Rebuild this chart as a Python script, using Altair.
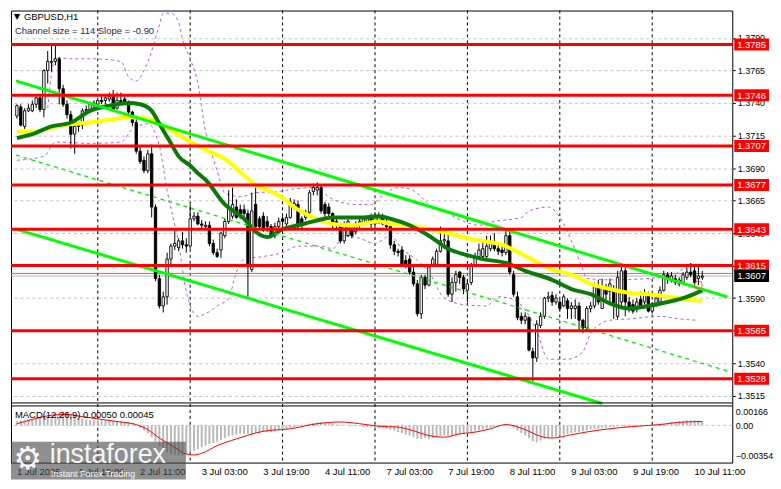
import altair as alt
import pandas as pd

# ---------------- values ----------------
time_labels = ["1 Jul 2025", "1 Jul 19:00", "2 Jul 11:00", "3 Jul 03:00", "3 Jul 19:00",
               "4 Jul 11:00", "7 Jul 03:00", "7 Jul 19:00", "8 Jul 11:00", "9 Jul 03:00",
               "9 Jul 19:00", "10 Jul 11:00"]
label_bars = [0, 16, 32, 48, 64, 80, 96, 112, 128, 144, 160, 176]
grid_bars = [0, 8, 16, 24, 32, 40, 48, 56, 64, 72, 80, 88, 96, 104, 112, 120, 128,
             136, 144, 152, 160, 168, 176]
day_starts = [21, 45, 69, 93, 117, 141, 165]
price_ticks = [1.3515, 1.3540, 1.3565, 1.3590, 1.3615, 1.3640, 1.3665, 1.3690,
               1.3715, 1.3740, 1.3765, 1.3790]
macd_ticks = [0.00166, 0.0, -0.00354]
levels = [1.3785, 1.3746, 1.3707, 1.3677, 1.3643, 1.3615, 1.3565, 1.3528]
bid_price = 1.3607
ask_price = 1.3609
marker_bar = 177
marker_price = 1.3600

open_ = [1.3730,1.3737,1.3722,1.3734,1.3734,1.3739,1.3744,1.3735,1.3765,1.3771,
         1.3772,1.3774,1.3751,1.3739,1.3731,1.3716,1.3722,1.3723,1.3734,1.3734,
         1.3738,1.3739,1.3742,1.3742,1.3743,1.3745,1.3736,1.3742,1.3743,1.3740,
         1.3733,1.3725,1.3703,1.3696,1.3688,1.3701,1.3660,1.3605,1.3584,1.3591,
         1.3620,1.3630,1.3629,1.3634,1.3631,1.3630,1.3651,1.3653,1.3647,1.3645,
         1.3646,1.3632,1.3625,1.3627,1.3638,1.3649,1.3653,1.3660,1.3658,1.3658,
         1.3655,1.3612,1.3662,1.3651,1.3653,1.3649,1.3645,1.3638,1.3645,1.3651,
         1.3647,1.3652,1.3660,1.3662,1.3651,1.3652,1.3656,1.3672,1.3673,1.3675,
         1.3662,1.3660,1.3655,1.3649,1.3646,1.3634,1.3638,1.3643,1.3641,1.3646,
         1.3647,1.3649,1.3652,1.3647,1.3649,1.3653,1.3647,1.3645,1.3631,1.3626,
         1.3627,1.3619,1.3620,1.3610,1.3601,1.3578,1.3606,1.3600,1.3616,1.3616,
         1.3626,1.3634,1.3634,1.3593,1.3602,1.3610,1.3606,1.3596,1.3602,1.3615,
         1.3622,1.3622,1.3622,1.3628,1.3632,1.3628,1.3627,1.3625,1.3638,1.3608,
         1.3591,1.3576,1.3573,1.3575,1.3549,1.3544,1.3569,1.3576,1.3590,1.3592,
         1.3587,1.3587,1.3584,1.3588,1.3582,1.3582,1.3584,1.3573,1.3567,1.3582,
         1.3584,1.3600,1.3582,1.3599,1.3595,1.3596,1.3576,1.3587,1.3611,1.3587,
         1.3585,1.3582,1.3589,1.3587,1.3593,1.3580,1.3585,1.3587,1.3596,1.3608,
         1.3604,1.3605,1.3601,1.3602,1.3606,1.3610,1.3611,1.3605,1.3606]
high = [1.3739,1.3739,1.3736,1.3739,1.3742,1.3745,1.3745,1.3766,1.3780,1.3785,
        1.3785,1.3775,1.3754,1.3742,1.3734,1.3725,1.3725,1.3736,1.3738,1.3741,
        1.3742,1.3744,1.3745,1.3745,1.3748,1.3750,1.3748,1.3748,1.3745,1.3742,
        1.3734,1.3728,1.3707,1.3699,1.3704,1.3708,1.3662,1.3608,1.3595,1.3625,
        1.3632,1.3642,1.3636,1.3641,1.3636,1.3662,1.3656,1.3656,1.3650,1.3649,
        1.3649,1.3635,1.3628,1.3641,1.3651,1.3673,1.3675,1.3666,1.3662,1.3662,
        1.3658,1.3671,1.3675,1.3653,1.3656,1.3653,1.3647,1.3648,1.3652,1.3653,
        1.3655,1.3667,1.3666,1.3665,1.3653,1.3658,1.3673,1.3678,1.3679,1.3677,
        1.3664,1.3663,1.3656,1.3652,1.3648,1.3649,1.3652,1.3646,1.3649,1.3652,
        1.3653,1.3653,1.3655,1.3656,1.3656,1.3655,1.3651,1.3646,1.3634,1.3628,
        1.3630,1.3623,1.3623,1.3614,1.3604,1.3608,1.3608,1.3616,1.3622,1.3628,
        1.3645,1.3641,1.3640,1.3606,1.3611,1.3611,1.3608,1.3604,1.3617,1.3625,
        1.3632,1.3634,1.3638,1.3638,1.3640,1.3632,1.3630,1.3643,1.3641,1.3611,
        1.3595,1.3579,1.3579,1.3576,1.3552,1.3573,1.3579,1.3591,1.3595,1.3595,
        1.3593,1.3589,1.3593,1.3590,1.3587,1.3589,1.3587,1.3574,1.3584,1.3587,
        1.3602,1.3604,1.3605,1.3601,1.3605,1.3600,1.3611,1.3617,1.3616,1.3591,
        1.3589,1.3590,1.3595,1.3597,1.3595,1.3587,1.3593,1.3599,1.3611,1.3610,
        1.3610,1.3608,1.3606,1.3610,1.3614,1.3617,1.3615,1.3614,1.3611]
low = [1.3728,1.3722,1.3720,1.3733,1.3733,1.3736,1.3733,1.3729,1.3755,1.3764,
       1.3769,1.3739,1.3737,1.3728,1.3705,1.3701,1.3718,1.3720,1.3731,1.3733,
       1.3736,1.3737,1.3739,1.3739,1.3741,1.3733,1.3735,1.3739,1.3739,1.3731,
       1.3722,1.3701,1.3693,1.3686,1.3686,1.3652,1.3603,1.3582,1.3579,1.3585,
       1.3616,1.3627,1.3626,1.3628,1.3625,1.3628,1.3649,1.3646,1.3643,1.3644,
       1.3630,1.3623,1.3621,1.3621,1.3636,1.3647,1.3651,1.3651,1.3651,1.3652,
       1.3591,1.3610,1.3643,1.3643,1.3641,1.3641,1.3636,1.3636,1.3643,1.3646,
       1.3645,1.3651,1.3658,1.3643,1.3643,1.3650,1.3655,1.3669,1.3669,1.3655,
       1.3652,1.3652,1.3643,1.3643,1.3632,1.3632,1.3637,1.3636,1.3639,1.3644,
       1.3646,1.3647,1.3642,1.3646,1.3647,1.3646,1.3643,1.3628,1.3623,1.3622,
       1.3614,1.3613,1.3608,1.3599,1.3576,1.3574,1.3597,1.3599,1.3614,1.3614,
       1.3625,1.3628,1.3591,1.3587,1.3595,1.3601,1.3593,1.3587,1.3600,1.3614,
       1.3620,1.3621,1.3621,1.3626,1.3626,1.3623,1.3622,1.3623,1.3608,1.3591,
       1.3573,1.3570,1.3570,1.3549,1.3526,1.3541,1.3567,1.3574,1.3587,1.3584,
       1.3585,1.3580,1.3583,1.3574,1.3574,1.3574,1.3564,1.3563,1.3565,1.3579,
       1.3582,1.3585,1.3582,1.3587,1.3587,1.3574,1.3574,1.3584,1.3576,1.3579,
       1.3578,1.3579,1.3582,1.3585,1.3579,1.3578,1.3583,1.3586,1.3595,1.3601,
       1.3602,1.3600,1.3599,1.3601,1.3604,1.3606,1.3600,1.3600,1.3604]
close = [1.3738,1.3723,1.3734,1.3736,1.3739,1.3744,1.3735,1.3765,1.3772,1.3772,
         1.3774,1.3751,1.3739,1.3731,1.3716,1.3722,1.3723,1.3734,1.3735,1.3739,
         1.3740,1.3742,1.3741,1.3744,1.3745,1.3735,1.3742,1.3741,1.3740,1.3733,
         1.3725,1.3703,1.3695,1.3688,1.3701,1.3660,1.3605,1.3584,1.3591,1.3620,
         1.3630,1.3632,1.3634,1.3631,1.3630,1.3651,1.3653,1.3647,1.3646,1.3646,
         1.3632,1.3625,1.3622,1.3640,1.3649,1.3660,1.3662,1.3652,1.3653,1.3655,
         1.3614,1.3657,1.3645,1.3645,1.3643,1.3645,1.3638,1.3645,1.3649,1.3649,
         1.3652,1.3664,1.3663,1.3646,1.3646,1.3656,1.3671,1.3675,1.3675,1.3657,
         1.3655,1.3655,1.3646,1.3646,1.3634,1.3647,1.3649,1.3638,1.3646,1.3649,
         1.3651,1.3651,1.3647,1.3652,1.3653,1.3647,1.3645,1.3631,1.3626,1.3625,
         1.3616,1.3615,1.3610,1.3601,1.3578,1.3606,1.3600,1.3614,1.3620,1.3626,
         1.3634,1.3635,1.3593,1.3602,1.3608,1.3606,1.3597,1.3601,1.3616,1.3622,
         1.3627,1.3628,1.3630,1.3632,1.3628,1.3626,1.3625,1.3638,1.3610,1.3593,
         1.3575,1.3573,1.3576,1.3550,1.3544,1.3570,1.3576,1.3590,1.3591,1.3587,
         1.3590,1.3582,1.3591,1.3582,1.3584,1.3584,1.3573,1.3567,1.3582,1.3584,
         1.3600,1.3587,1.3599,1.3593,1.3601,1.3584,1.3606,1.3611,1.3587,1.3582,
         1.3580,1.3587,1.3584,1.3593,1.3580,1.3585,1.3590,1.3596,1.3608,1.3605,
         1.3607,1.3602,1.3604,1.3608,1.3610,1.3608,1.3602,1.3607,1.3607]

yellow_idx = [0,4,12,19,24,29,34,39,44,49,54,58,62,66,69,72,77,82,87,94,97,102,107,
              112,117,121,127,129,133,139,144,149,154,159,164,169,174,178]
yellow_val = [1.3718,1.3718,1.3723,1.3725,1.3727,1.3729,1.3728,1.3721,1.3712,1.3704,
              1.3697,1.3687,1.3677,1.3672,1.3667,1.3660,1.3652,1.3647,1.3646,1.3649,
              1.3647,1.3646,1.3643,1.3640,1.3636,1.3634,1.3630,1.3627,1.3621,1.3612,
              1.3608,1.3601,1.3597,1.3594,1.3593,1.3591,1.3589,1.3588]
green_idx = [0,4,9,14,19,24,29,32,35,37,40,42,45,47,49,54,59,62,65,69,73,77,82,86,90,
             94,97,102,107,112,117,121,127,132,139,144,149,154,159,164,169,174,178]
green_val = [1.3713,1.3716,1.3722,1.3725,1.3734,1.3738,1.3740,1.3739,1.3734,1.3724,
             1.3709,1.3699,1.3692,1.3686,1.3681,1.3662,1.3651,1.3641,1.3637,1.3643,
             1.3646,1.3649,1.3652,1.3652,1.3652,1.3653,1.3651,1.3646,1.3638,1.3628,
             1.3623,1.3620,1.3617,1.3611,1.3604,1.3597,1.3593,1.3586,1.3582,1.3584,
             1.3587,1.3591,1.3596]
band_up_idx = [8,10,14,19,27,29,31,33,35,37,38,40,42,43,45,47,49,50,52,54,58,62,68,72,
               77,82,88,92,95,99,102,105,107,112,116,120,124,131,133,138,142,144,147,
               148,155,167,172,174,178]
band_up_val = [1.3736,1.3775,1.3774,1.3774,1.3772,1.3760,1.3757,1.3765,1.3780,1.3800,
               1.3809,1.3809,1.3802,1.3789,1.3774,1.3755,1.3718,1.3707,1.3688,1.3671,
               1.3668,1.3671,1.3672,1.3674,1.3675,1.3666,1.3662,1.3662,1.3669,1.3675,
               1.3674,1.3668,1.3662,1.3655,1.3649,1.3646,1.3649,1.3652,1.3657,1.3660,
               1.3647,1.3634,1.3612,1.3605,1.3604,1.3606,1.3610,1.3616,1.3616]
band_lo_idx = [0,7,10,19,27,30,34,37,39,42,44,47,49,52,55,57,59,64,69,73,79,82,85,89,
               93,97,100,104,107,111,116,122,125,128,132,135,138,143,147,149,152,154,
               159,167,172,177]
band_lo_val = [1.3696,1.3699,1.3710,1.3709,1.3710,1.3720,1.3724,1.3707,1.3673,1.3632,
               1.3595,1.3576,1.3578,1.3584,1.3590,1.3610,1.3620,1.3622,1.3625,1.3630,
               1.3630,1.3628,1.3638,1.3636,1.3632,1.3638,1.3628,1.3619,1.3610,1.3590,
               1.3585,1.3584,1.3591,1.3590,1.3581,1.3565,1.3543,1.3543,1.3549,1.3563,
               1.3571,1.3573,1.3574,1.3576,1.3574,1.3573]
chan_up_idx, chan_up_val = [-0.25, 184.5], [1.3757, 1.3591]
chan_mid_idx, chan_mid_val = [-0.25, 184.5], [1.3700, 1.3534]
chan_lo_idx, chan_lo_val = [-0.25, 152], [1.3643, 1.3509]

macd_hist = [0.0005,0.0006,0.0006,0.0007,0.0007,0.0008,0.0009,0.0010,
             0.0010,0.0012,0.0014,0.0015,0.00166,0.0016,0.0014,0.0011,
             0.0009,0.0008,0.0007,0.0006,0.0006,0.0006,0.0006,0.0006,0.0005,0.0005,
             0.0005,0.0005,0.0004,0.0004,0.0003,
             0.0,-0.0003,-0.0006,-0.0009,-0.0014,
             -0.0019,-0.0024,-0.0029,-0.0032,-0.0034,-0.0035,-0.00354,-0.0035,-0.0034,
             -0.0032,-0.0030,-0.0028,-0.0026,-0.0024,-0.0022,-0.0021,-0.0019,-0.0017,
             -0.0015,-0.0013,-0.0012,-0.0011,
             -0.0010,-0.0010,-0.0010,-0.0011,-0.0009,-0.0009,-0.0008,-0.0008,-0.0008,
             -0.0007,-0.0006,-0.0005,-0.0004,
             -0.0003,-0.0002,-0.0001,0.0,0.0001,0.0002,0.0003,0.0004,
             0.0004,0.0003,0.0003,0.0002,0.0001,0.0001,0.0,0.0,-0.0001,-0.0001,-0.0001,-0.0002,
             -0.0002,-0.0002,-0.0003,-0.0003,-0.0003,-0.0004,
             -0.0005,-0.0006,-0.0008,-0.0009,-0.0011,-0.0012,-0.0014,-0.0016,-0.0016,
             -0.0015,-0.0016,-0.0015,
             -0.0014,-0.0013,-0.0012,-0.0012,-0.0013,-0.0012,-0.0011,-0.0010,-0.0009,-0.0008,
             -0.0007,-0.0006,-0.0005,-0.0004,-0.0003,-0.0002,-0.0001,0.0,0.0001,0.0,
             -0.0003,-0.0006,-0.0009,-0.0012,-0.0015,-0.0019,-0.0020,-0.0018,-0.0016,-0.0015,
             -0.0014,-0.0013,-0.0012,-0.0011,-0.0010,-0.0009,-0.0008,-0.0008,-0.0007,
             -0.0006,-0.0005,-0.0004,
             -0.0004,-0.0003,-0.0003,-0.0002,-0.0002,-0.0001,-0.0001,-0.0002,-0.0002,
             -0.0001,-0.0001,-0.0001,0.0,0.0,0.0,
             0.0001,0.0002,0.0002,0.0003,0.0004,0.0004,0.0005,0.0005,0.0006,0.0006,
             0.0006,0.0006,0.0005]
signal_idx = [0,4,9,13,16,22,27,31,34,37,41,44,46,48,52,57,64,71,78,84,89,94,99,102,107,
              111,115,119,123,127,132,136,139,144,152,161,167,173,178]
signal_val = [0.0002,0.0007,0.0012,0.0013,0.0011,0.0007,0.0004,0.0001,-0.0005,-0.0015,
              -0.0026,-0.0034,-0.0035,-0.0033,-0.0024,-0.0016,-0.0007,-0.0004,0.0002,0.0004,
              0.0002,-0.0001,-0.0002,-0.0005,-0.0012,-0.0014,-0.0010,-0.0008,-0.0004,0.0001,
              -0.0005,-0.0013,-0.0015,-0.0011,-0.0005,-0.0001,0.0001,0.0004,0.00045]

title_text = "GBPUSD,H1"
channel_text = "Channel size = 114 Slope = -0.90"
macd_text = "MACD(12,26,9) 0.00050 0.00045"

# ---------------- layout / style ----------------
W, H, MAIN_H, MACD_TOP = 726, 455, 395, 398
PRICE_DOMAIN = [1.346357, 1.38111]
MACD_DOMAIN = [-0.0044, 0.049082]
X_DOMAIN = [-0.25, 184.5]
FONT = "Liberation Sans"
GRID = "#c4c4c4"

xs = alt.Scale(domain=X_DOMAIN, nice=False, zero=False)
ps = alt.Scale(domain=PRICE_DOMAIN, nice=False, zero=False)
ms = alt.Scale(domain=MACD_DOMAIN, nice=False, zero=False)

n = min(len(open_), len(high), len(low), len(close))
candles = pd.DataFrame({"i": list(range(n)), "o": open_[:n], "h": high[:n],
                        "l": low[:n], "c": close[:n]})
candles["fill"] = ["white" if c >= o else "black" for o, c in zip(candles.o, candles.c)]

x_axis = alt.Axis(values=grid_bars, orient="bottom", title=None, labels=False,
                  grid=True, gridColor=GRID, gridDash=[3, 3], gridWidth=1,
                  ticks=False, domain=False)
y_axis = alt.Axis(values=price_ticks, orient="right", title=None, format=".4f",
                  grid=True, gridColor=GRID, gridDash=[3, 3], gridWidth=1,
                  domain=False, ticks=True, tickSize=3, tickColor="black",
                  labelPadding=2, labelFont=FONT, labelFontSize=9, labelColor="black",
                  labelFlush=False, labelOverlap=False)
m_axis = alt.Axis(values=macd_ticks, orient="right", title=None,
                  labelExpr="datum.value == 0 ? '0.00' : format(datum.value, '.5f')",
                  grid=False, domain=False, ticks=False, labelPadding=3,
                  labelFont=FONT, labelFontSize=9, labelColor="black",
                  labelFlush=False, labelOverlap=False)


def X(field="i:Q"):
    return alt.X(field, scale=xs, axis=None)


def P(field):
    return alt.Y(field, scale=ps, axis=None)


def M(field):
    return alt.Y(field, scale=ms, axis=None)


def price_line(idx, vals, color, width, dash=None, interp="monotone"):
    df = pd.DataFrame({"i": idx, "v": vals})
    kw = dict(color=color, strokeWidth=width, interpolate=interp)
    if dash:
        kw["strokeDash"] = dash
    return alt.Chart(df).mark_line(**kw).encode(x=X(), y=P("v:Q"))


def text(t, x, y, size=9.5, color="black", font=FONT, align="left",
         baseline="alphabetic", opacity=1.0):
    return alt.Chart(pd.DataFrame({"t": [t]})).mark_text(
        align=align, baseline=baseline, fontSize=size, font=font, color=color,
        opacity=opacity).encode(text="t:N", x=alt.value(x), y=alt.value(y))


# ---------------- main (price) panel ----------------
days = alt.Chart(pd.DataFrame({"i": day_starts})).mark_rule(
    color="black", strokeWidth=1, strokeDash=[3, 3]).encode(x=X())

band_up = price_line(band_up_idx, band_up_val, "#b55ee0", 1, dash=[3, 3])
band_lo = price_line(band_lo_idx, band_lo_val, "#b55ee0", 1, dash=[3, 3])

quotes = pd.DataFrame({"p": [ask_price, bid_price], "col": ["#ff5a1e", "#b4b4b4"]})
quote_lines = alt.Chart(quotes).mark_rule(strokeWidth=1).encode(
    y=P("p:Q"), color=alt.Color("col:N", scale=None))

wicks = alt.Chart(candles).mark_rule(color="black", strokeWidth=1).encode(
    x=alt.X("i:Q", scale=xs, axis=x_axis),
    y=alt.Y("l:Q", scale=ps, axis=y_axis),
    y2="h:Q")
bodies = alt.Chart(candles).mark_bar(size=2.4, stroke="black", strokeWidth=0.9).encode(
    x=X(), y=P("o:Q"), y2="c:Q", fill=alt.Fill("fill:N", scale=None))

yellow = price_line(yellow_idx, yellow_val, "#ffff00", 4)
green = price_line(green_idx, green_val, "#0a7a0a", 4)

ch_up = price_line(chan_up_idx, chan_up_val, "#00ff00", 3, interp="linear")
ch_mid = price_line(chan_mid_idx, chan_mid_val, "#00ee00", 1.3, dash=[4, 4], interp="linear")
ch_lo = price_line(chan_lo_idx, chan_lo_val, "#00ff00", 3, interp="linear")

lev_df = pd.DataFrame({"p": levels, "lab": [f"{v:.4f}" for v in levels]})
level_lines = alt.Chart(lev_df).mark_rule(color="#ff0000", strokeWidth=3).encode(y=P("p:Q"))
level_boxes = alt.Chart(lev_df).mark_rect(color="#ff0000", yOffset=-6, y2Offset=6).encode(
    x=alt.value(W + 2), x2=alt.value(W + 37), y=P("p:Q"), y2="p:Q")
level_text = alt.Chart(lev_df).mark_text(color="white", font=FONT, fontSize=9.5,
                                         align="center", baseline="middle", dy=0.5).encode(
    x=alt.value(W + 19.5), y=P("p:Q"), text="lab:N")

bid_df = pd.DataFrame({"p": [bid_price], "lab": [f"{bid_price:.4f}"]})
bid_box = alt.Chart(bid_df).mark_rect(color="black", yOffset=-6, y2Offset=6).encode(
    x=alt.value(W + 2), x2=alt.value(W + 37), y=P("p:Q"), y2="p:Q")
bid_text = alt.Chart(bid_df).mark_text(color="white", font=FONT, fontSize=9.5,
                                       align="center", baseline="middle", dy=0.5).encode(
    x=alt.value(W + 19.5), y=P("p:Q"), text="lab:N")

marker = alt.Chart(pd.DataFrame({"i": [marker_bar], "p": [marker_price]})).mark_point(
    shape="circle", filled=False, color="#ff4040", size=60, strokeWidth=1.2).encode(
    x=X(), y=P("p:Q"))

head_tri = text("\u25bc", 3, 9, size=8, font="DejaVu Sans")
head_title = text(title_text, 13, 10, size=9.5)
head_chan = text(channel_text, 4, 24, size=9.5, color="#1c2850")

# ---------------- MACD panel ----------------
hist_df = pd.DataFrame({"i": list(range(len(macd_hist))), "v": macd_hist})
sig_df = pd.DataFrame({"i": signal_idx, "v": signal_val})

zero_line = alt.Chart(pd.DataFrame({"v": [0.0]})).mark_rule(
    color=GRID, strokeDash=[3, 3], strokeWidth=1).encode(y=M("v:Q"))
hist = alt.Chart(hist_df).mark_bar(size=2, color="#b9b9b9").encode(
    x=X(), y=alt.Y("v:Q", scale=ms, axis=m_axis), y2=alt.Y2Datum(0.0))
signal = alt.Chart(sig_df).mark_line(color="#ff0000", strokeWidth=1,
                                     interpolate="monotone").encode(x=X(), y=M("v:Q"))
sep_df = pd.DataFrame({"k": [0]})
sep1 = alt.Chart(sep_df).mark_rule(color="black", strokeWidth=1).encode(
    x=alt.value(0), x2=alt.value(W), y=alt.value(MAIN_H))
sep2 = alt.Chart(sep_df).mark_rule(color="black", strokeWidth=1).encode(
    x=alt.value(0), x2=alt.value(W), y=alt.value(MACD_TOP))
macd_head = text(macd_text, 4, MACD_TOP + 12, size=9.5)

# time labels under the MACD panel, placed through the shared x scale
tl_df = pd.DataFrame({"i": label_bars, "lab": time_labels})
time_text = alt.Chart(tl_df).mark_text(align="left", baseline="top", font=FONT,
                                       fontSize=9.5, color="black").encode(
    x=X(), y=alt.value(H + 5), text="lab:N")

wm_box = alt.Chart(sep_df).mark_rect(color="#4a4a4a", opacity=0.62).encode(
    x=alt.value(0), x2=alt.value(176), y=alt.value(434), y2=alt.value(472))
wm_icon = text("\u2699", 17, 451, size=32, color="white", font="DejaVu Sans",
               align="center", baseline="middle", opacity=0.92)
wm_name = text("instaforex", 39, 455, size=27, color="white", opacity=0.92)
wm_tag = text("Instant Forex Trading", 40, 470, size=9, color="white", opacity=0.92)

layers = [days, band_up, band_lo, quote_lines, wicks, bodies, yellow, green,
          ch_up, ch_mid, ch_lo, level_lines, level_boxes, level_text,
          bid_box, bid_text, marker, head_tri, head_title, head_chan,
          zero_line, hist, signal, sep1, sep2, macd_head, time_text,
          wm_box, wm_icon, wm_name, wm_tag]

chart = alt.layer(*layers).resolve_scale(y="independent").properties(
    width=W, height=H, padding=0, background="white"
).configure_view(stroke="black", strokeWidth=1)

chart.save("out.html", embed_options={"renderer": "svg", "actions": False})
